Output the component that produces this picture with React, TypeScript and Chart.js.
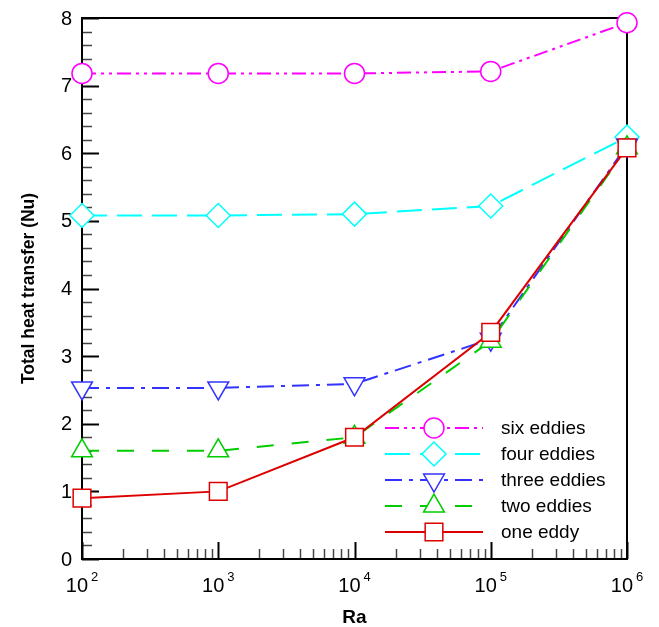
import React, { useEffect, useRef } from 'react';
import { Chart, registerables } from 'chart.js';
import { drawPoint } from 'chart.js/helpers';

Chart.register(...registerables);

// ---- data ----
const raValues = [1e2, 1e3, 1e4, 1e5, 1e6];
const sixEddies = [7.18, 7.18, 7.18, 7.21, 7.93];
const fourEddies = [5.08, 5.08, 5.1, 5.22, 6.24];
const threeEddies = [2.53, 2.53, 2.59, 3.25, 6.12];
const twoEddies = [1.6, 1.6, 1.8, 3.22, 6.08];
const oneEddy = [0.9, 1.0, 1.8, 3.35, 6.08];
const seriesNames = ['six eddies', 'four eddies', 'three eddies', 'two eddies', 'one eddy'];
const xTickExponents = [2, 3, 4, 5, 6];
const yTickLabels = [0, 1, 2, 3, 4, 5, 6, 7, 8];

const FONT = '"Liberation Sans", Arial, Helvetica, sans-serif';

const styles = [
  { color: '#ff00ff', dash: [14, 5, 3, 5, 3, 5], pointStyle: 'circle', radius: 10, rotation: 0 },
  { color: '#00ffff', dash: [25, 10], pointStyle: 'rectRot', radius: 12, rotation: 0 },
  { color: '#3333ff', dash: [17, 7, 4, 7], pointStyle: 'triangle', radius: 12, rotation: 180 },
  { color: '#00cc00', dash: [17, 18], pointStyle: 'triangle', radius: 12, rotation: 0 },
  { color: '#dd0000', dash: [], pointStyle: 'rect', radius: 12.5, rotation: 0 },
];

const seriesValues = [sixEddies, fourEddies, threeEddies, twoEddies, oneEddy];

const axesPlugin = {
  id: 'customAxes',
  beforeDatasetsDraw(chart: any) {
    const { ctx, chartArea, scales } = chart;
    const { left, right, top, bottom } = chartArea;
    const xs = scales.x;
    const ys = scales.y;
    ctx.save();
    ctx.setLineDash([]);
    // y ticks
    for (let k = 0; k <= 40; k++) {
      const v = k * 0.2;
      const py = Math.round(ys.getPixelForValue(v)) + 0.5;
      const major = k % 5 === 0;
      ctx.beginPath();
      ctx.strokeStyle = major ? '#000' : '#444';
      ctx.lineWidth = major ? 2 : 1.5;
      ctx.moveTo(left, py);
      ctx.lineTo(left + (major ? 17 : 10), py);
      ctx.stroke();
    }
    // x ticks
    for (let e = 2; e <= 6; e++) {
      for (let m = 1; m <= 9; m++) {
        if (e === 6 && m > 1) break;
        const v = m * Math.pow(10, e);
        const px = Math.round(xs.getPixelForValue(v)) + 0.5;
        const major = m === 1;
        ctx.beginPath();
        ctx.strokeStyle = major ? '#000' : '#444';
        ctx.lineWidth = major ? 2 : 1.5;
        ctx.moveTo(px, bottom);
        ctx.lineTo(px, bottom - (major ? 17 : 10));
        ctx.stroke();
      }
    }
    // frame
    ctx.strokeStyle = '#000';
    ctx.lineWidth = 2;
    ctx.strokeRect(left, top, right - left, bottom - top);

    // y tick labels
    ctx.fillStyle = '#000';
    ctx.font = `20px ${FONT}`;
    ctx.textAlign = 'right';
    ctx.textBaseline = 'middle';
    yTickLabels.forEach((v) => {
      ctx.fillText(String(v), left - 10, ys.getPixelForValue(v) + 1);
    });

    // x tick labels 10^n
    ctx.textBaseline = 'alphabetic';
    ctx.textAlign = 'left';
    xTickExponents.forEach((e) => {
      const px = xs.getPixelForValue(Math.pow(10, e));
      ctx.font = `20px ${FONT}`;
      const w10 = ctx.measureText('10').width;
      ctx.font = `13px ${FONT}`;
      const ws = ctx.measureText(String(e)).width;
      const total = w10 + 3 + ws;
      const sx = px - total / 2;
      ctx.font = `20px ${FONT}`;
      ctx.fillText('10', sx, bottom + 33);
      ctx.font = `13px ${FONT}`;
      ctx.fillText(String(e), sx + w10 + 3, bottom + 22);
    });

    // axis titles
    ctx.font = `bold 19px ${FONT}`;
    ctx.textAlign = 'center';
    ctx.fillText('Ra', (left + right) / 2, bottom + 64);

    ctx.save();
    ctx.translate(34, (top + bottom) / 2);
    ctx.rotate(-Math.PI / 2);
    ctx.font = `bold 17.5px ${FONT}`;
    ctx.textAlign = 'center';
    ctx.textBaseline = 'alphabetic';
    ctx.fillText('Total heat transfer (Nu)', 0, 0);
    ctx.restore();

    ctx.restore();
  },
  afterDatasetsDraw(chart: any) {
    const { ctx } = chart;
    ctx.save();
    const x0 = 385;
    const x1 = 483;
    const xm = 434;
    const y0 = 428;
    const dy = 26;
    seriesNames.forEach((name, i) => {
      const s = styles[i];
      const yy = y0 + dy * i;
      ctx.beginPath();
      ctx.setLineDash(s.dash);
      ctx.strokeStyle = s.color;
      ctx.lineWidth = 2;
      ctx.moveTo(x0, yy);
      ctx.lineTo(x1, yy);
      ctx.stroke();
      ctx.setLineDash([]);
      ctx.fillStyle = '#fff';
      ctx.strokeStyle = s.color;
      ctx.lineWidth = 1.5;
      drawPoint(ctx, { pointStyle: s.pointStyle, radius: s.radius, rotation: s.rotation, borderWidth: 1.5 } as any, xm, yy);
      ctx.fillStyle = '#000';
      ctx.font = `19px ${FONT}`;
      ctx.textAlign = 'left';
      ctx.textBaseline = 'middle';
      ctx.fillText(name, 501, yy + 1);
    });
    ctx.restore();
  },
};

export default function App() {
  const ref = useRef<HTMLCanvasElement | null>(null);
  useEffect(() => {
    if (!ref.current) return;
    const datasets = seriesNames.map((name, i) => {
      const s = styles[i];
      return {
        label: name,
        data: raValues.map((x, j) => ({ x, y: seriesValues[i][j] })),
        borderColor: s.color,
        backgroundColor: '#ffffff',
        borderWidth: 2,
        borderDash: s.dash,
        pointStyle: s.pointStyle,
        pointRadius: s.radius,
        pointRotation: s.rotation,
        pointBorderWidth: 1.5,
        pointBorderColor: s.color,
        pointBackgroundColor: '#ffffff',
        tension: 0,
        clip: false as any,
        order: seriesNames.length - 1 - i,
      };
    });
    const chart = new Chart(ref.current, {
      type: 'line',
      data: { datasets: datasets as any },
      options: {
        animation: false,
        responsive: false,
        devicePixelRatio: 1,
        layout: { padding: { left: 82, right: 32, top: 18, bottom: 68 } },
        plugins: { legend: { display: false }, tooltip: { enabled: false } },
        scales: {
          x: { type: 'logarithmic', min: 100, max: 1e6, display: false },
          y: { type: 'linear', min: 0, max: 8, display: false },
        },
      },
      plugins: [axesPlugin],
    });
    return () => chart.destroy();
  }, []);
  return (
    <div style={{ position: 'absolute', left: 0, top: 0, width: 659, height: 627, background: '#fff' }}>
      <canvas ref={ref} width={659} height={627} style={{ width: 659, height: 627, display: 'block' }} />
    </div>
  );
}
